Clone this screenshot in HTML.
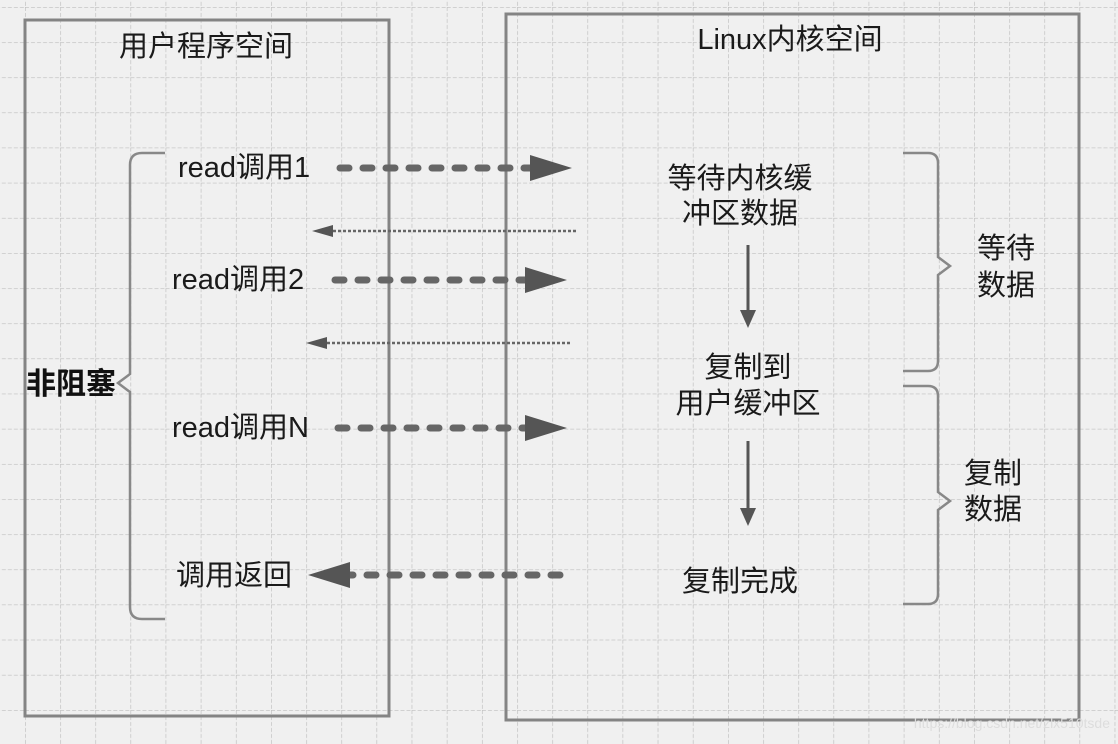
<!DOCTYPE html>
<html><head><meta charset="utf-8"><style>
html,body{margin:0;padding:0;background:#f0f0f0;}
svg{display:block}
text{font-family:"Liberation Sans","Noto Sans CJK SC",sans-serif;fill:#1a1a1a;}
</style></head><body>
<svg width="1118" height="744" viewBox="0 0 1118 744" xmlns="http://www.w3.org/2000/svg">
<defs>
<pattern id="g" x="25" y="7" width="35.15" height="35.15" patternUnits="userSpaceOnUse">
<line x1="0" y1="0" x2="0" y2="35.15" stroke="#bdbdbd" stroke-width="1.3" stroke-dasharray="4 2"/>
<line x1="0" y1="0" x2="35.15" y2="0" stroke="#bdbdbd" stroke-width="1.3" stroke-dasharray="4 2"/>
</pattern>
</defs>
<rect width="1118" height="744" fill="#f0f0f0"/>
<rect width="1118" height="744" fill="url(#g)"/>
<rect x="25" y="20" width="364" height="696" fill="none" stroke="#848484" stroke-width="3"/>
<rect x="506" y="14" width="573" height="706" fill="none" stroke="#848484" stroke-width="3"/>
<g font-size="29">
<text x="206" y="56" text-anchor="middle">用户程序空间</text>
<text x="790" y="49" text-anchor="middle">Linux内核空间</text>
<text x="178" y="177">read调用1</text>
<text x="172" y="289">read调用2</text>
<text x="172" y="437">read调用N</text>
<text x="176" y="585">调用返回</text>
<text x="740" y="188" text-anchor="middle">等待内核缓</text>
<text x="740" y="223" text-anchor="middle">冲区数据</text>
<text x="748" y="377" text-anchor="middle">复制到</text>
<text x="748" y="413" text-anchor="middle">用户缓冲区</text>
<text x="740" y="591" text-anchor="middle">复制完成</text>
<text x="1006" y="258" text-anchor="middle">等待</text>
<text x="1006" y="295" text-anchor="middle">数据</text>
<text x="993" y="483" text-anchor="middle">复制</text>
<text x="993" y="519" text-anchor="middle">数据</text>
<text x="26" y="394" font-size="30" font-weight="bold" style="fill:#111">非阻塞</text>
</g>
<g fill="none" stroke="#888" stroke-width="2.5">
<path d="M165,153 H142 Q130,153 130,165 V374 L118,383 L130,392 V607 Q130,619 142,619 H165"/>
<path d="M903,153 H928 Q938,153 938,163 V257 L950,266 L938,275 V361 Q938,371 928,371 H903"/>
<path d="M903,386 H928 Q938,386 938,396 V492 L950,501 L938,510 V594 Q938,604 928,604 H903"/>
</g>
<g stroke="#666" stroke-width="7" stroke-linecap="round" stroke-dasharray="9 14" fill="none">
<line x1="340" y1="168" x2="530" y2="168"/>
<line x1="335" y1="280" x2="525" y2="280"/>
<line x1="338" y1="428" x2="525" y2="428"/>
<line x1="560" y1="575" x2="350" y2="575"/>
</g>
<g fill="#555">
<path d="M530,155 L572,168 L530,181z"/>
<path d="M525,267 L567,280 L525,293z"/>
<path d="M525,415 L567,428 L525,441z"/>
<path d="M350,562 L308,575 L350,588z"/>
<path d="M312,231 L333,225 L333,237z"/>
<path d="M306,343 L327,337 L327,349z"/>
</g>
<g stroke="#666" stroke-width="2.5" stroke-dasharray="3 2" fill="none">
<line x1="333" y1="231" x2="578" y2="231"/>
<line x1="327" y1="343" x2="571" y2="343"/>
</g>
<g stroke="#555" stroke-width="3" fill="none">
<line x1="748" y1="245" x2="748" y2="312"/>
<line x1="748" y1="441" x2="748" y2="510"/>
</g>
<path d="M740,310 L748,328 L756,310z" fill="#555"/>
<path d="M740,508 L748,526 L756,508z" fill="#555"/>
<text x="1110" y="728" font-size="14" text-anchor="end" style="fill:#ddd">https://blog.csdn.net/zlx510tsde</text>
</svg>
</body></html>
